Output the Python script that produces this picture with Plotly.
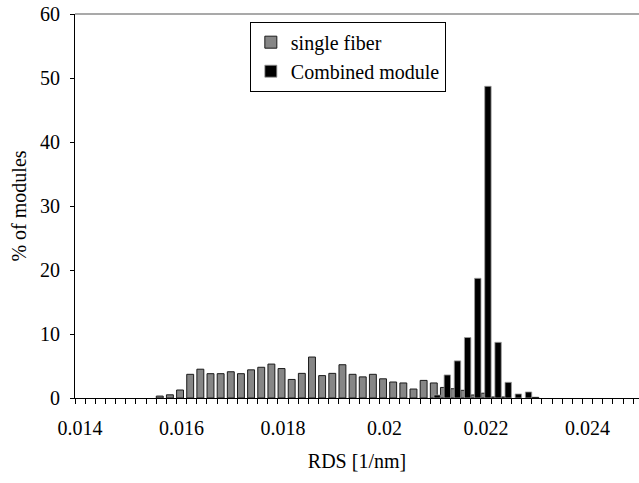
import plotly.graph_objects as go

# RDS bin centres [1/nm]
rds_bins = [0.0140, 0.0142, 0.0144, 0.0146, 0.0148, 0.0150, 0.0152, 0.0154, 0.0156, 0.0158,
            0.0160, 0.0162, 0.0164, 0.0166, 0.0168, 0.0170, 0.0172, 0.0174, 0.0176, 0.0178,
            0.0180, 0.0182, 0.0184, 0.0186, 0.0188, 0.0190, 0.0192, 0.0194, 0.0196, 0.0198,
            0.0200, 0.0202, 0.0204, 0.0206, 0.0208, 0.0210, 0.0212, 0.0214, 0.0216, 0.0218,
            0.0220, 0.0222, 0.0224, 0.0226, 0.0228, 0.0230, 0.0232, 0.0234, 0.0236, 0.0238,
            0.0240, 0.0242, 0.0244, 0.0246, 0.0248]

single_fiber = [0, 0, 0, 0, 0, 0, 0, 0, 0.3, 0.5,
                1.25, 3.7, 4.5, 3.8, 3.8, 4.1, 3.8, 4.4, 4.8, 5.3,
                4.6, 2.9, 3.85, 6.4, 3.5, 3.85, 5.2, 3.7, 3.3, 3.7,
                3.0, 2.5, 2.35, 1.4, 2.75, 2.35, 1.65, 1.45, 1.2, 0.47,
                0.75, 0.16, 0.16, 0, 0, 0.1, 0, 0, 0, 0,
                0, 0, 0, 0, 0]

combined_module = [0, 0, 0, 0, 0, 0, 0, 0, 0, 0,
                   0, 0, 0, 0, 0, 0, 0, 0, 0, 0,
                   0, 0, 0, 0, 0, 0, 0, 0, 0, 0,
                   0, 0, 0, 0, 0, 0.47, 3.6, 5.8, 9.45, 18.7,
                   48.7, 8.7, 2.45, 0.63, 0.94, 0, 0, 0, 0, 0,
                   0, 0, 0, 0, 0]

tick_vals = [0.014, 0.016, 0.018, 0.020, 0.022, 0.024]
tick_text = ["0.014", "0.016", "0.018", "0.02", "0.022", "0.024"]

BIN = 0.0002
FONT = "Liberation Serif"


def nz(vals):
    return [v if v > 0 else None for v in vals]


fig = go.Figure()
fig.add_trace(go.Bar(
    x=rds_bins, y=nz(single_fiber), name="single fiber",
    width=BIN * 0.68, offset=-BIN * 0.5 + BIN * 0.01,
    marker=dict(color="#868686", line=dict(color="#1a1a1a", width=1)),
))
fig.add_trace(go.Bar(
    x=rds_bins, y=nz(combined_module), name="Combined module",
    width=BIN * 0.63, offset=-BIN * 0.5 + BIN * 0.37,
    marker=dict(color="#000000", line=dict(color="#9a9a9a", width=0.8)),
))

fig.update_layout(
    width=639, height=483,
    margin=dict(l=75, r=0, t=14, b=85),
    barmode="overlay",
    plot_bgcolor="white", paper_bgcolor="white",
    font=dict(family=FONT, size=20, color="black"),
    showlegend=True,
    legend=dict(
        x=0.31, y=0.98, xanchor="left", yanchor="top",
        bordercolor="black", borderwidth=1, bgcolor="white",
        font=dict(family=FONT, size=20, color="black"),
        tracegroupgap=0, itemwidth=30,
    ),
    xaxis=dict(
        range=[0.0139, 0.025014],
        tickmode="array", tickvals=tick_vals, ticktext=tick_text,
        ticks="", ticklabelstandoff=12,
        showgrid=False, zeroline=False,
        showline=True, linecolor="black", linewidth=1,
        minor=dict(tick0=0.0139, dtick=BIN, ticks="outside", ticklen=5,
                   tickcolor="black", tickwidth=1, showgrid=False),
        title=dict(text="RDS [1/nm]", standoff=15,
                   font=dict(family=FONT, size=20)),
        tickfont=dict(family=FONT, size=20),
    ),
    yaxis=dict(
        range=[0, 60], tickmode="linear", tick0=0, dtick=10,
        ticks="outside", ticklen=4, tickcolor="black",
        ticklabelstandoff=6,
        showgrid=False, zeroline=False,
        showline=True, linecolor="black", linewidth=1,
        title=dict(text="% of modules", standoff=8,
                   font=dict(family=FONT, size=20)),
        tickfont=dict(family=FONT, size=20),
    ),
    shapes=[dict(type="line", xref="paper", yref="paper",
                 x0=0, x1=1, y0=1, y1=1,
                 line=dict(color="#8c8c8c", width=1.5))],
)

fig.write_html("out.html")
